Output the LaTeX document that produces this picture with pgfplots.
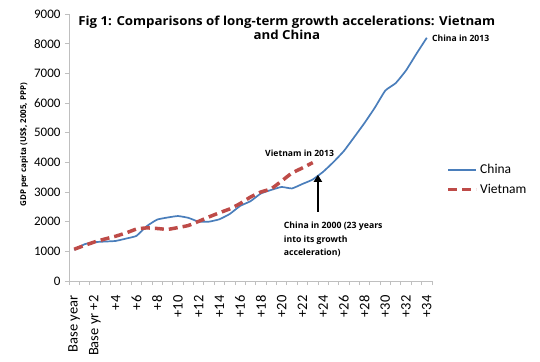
\documentclass[border=0pt]{standalone}
\usepackage{pgfplots}
\pgfplotsset{compat=1.18}
\usepackage{fontspec}
\setmainfont{Carlito}
\newfontfamily\osans{Open Sans}
\newfontfamily\osansw{Open Sans}[FakeStretch=1.07]
\usetikzlibrary{arrows.meta}
\definecolor{chinablue}{HTML}{4A7EBB}
\definecolor{vnred}{HTML}{BE4B48}
\definecolor{axgrey}{HTML}{BFBFBF}
\begin{document}
\begin{tikzpicture}
\path[use as bounding box] (-69pt,-80pt) rectangle (471pt,281pt);
\begin{axis}[
  at={(0,0)}, anchor=south west,
  scale only axis, width=363pt, height=267pt,
  xmin=-0.5, xmax=34.5, ymin=0, ymax=9000,
  axis lines*=left,
  axis line style={axgrey, line width=0.8pt},
  clip=false,
  ytick={0,1000,...,9000},
  xtick={0,2,...,34},
  xticklabels={Base year,Base yr +2,+4,+6,+8,+10,+12,+14,+16,+18,+20,+22,+24,+26,+28,+30,+32,+34},
  minor xtick={-0.5,0.5,...,34.5},
  tick align=outside,
  major tick length=4pt, minor tick length=4pt,
  major x tick style={draw=none},
  minor x tick style={axgrey, line width=0.8pt},
  major y tick style={axgrey, line width=0.8pt},
  /pgf/number format/assume math mode=true,
  /pgf/number format/1000 sep={},
  yticklabel style={font=\fontsize{13}{14}\selectfont, xshift=-1pt},
  xticklabel shift=7pt,
  xticklabel style={font=\fontsize{14.5}{15}\selectfont, rotate=90, anchor=east},
  legend style={at={(rel axis cs:1.04,0.38)}, anchor=west, draw=none, fill=none,
    font=\fontsize{13.5}{14}\selectfont, row sep=5pt, inner sep=0pt},
  legend cell align=left,
  legend image code/.code={\draw[#1] (0pt,0pt) -- (28pt,0pt);},
]
\addlegendimage{chinablue, line width=2pt}
\addlegendentry{China}
\addlegendimage{vnred, line width=3.5pt, dash pattern=on 9pt off 5pt}
\addlegendentry{Vietnam}
\addplot[chinablue, line width=1.7pt, smooth, tension=0.25, forget plot] coordinates {
(0,1050) (1,1240) (2,1310) (3,1330) (4,1350) (5,1430) (6,1520) (7,1850) (8,2070)
(9,2140) (10,2190) (11,2130) (12,2000) (13,2000) (14,2080) (15,2260) (16,2530)
(17,2690) (18,2950) (19,3070) (20,3170) (21,3120) (22,3270) (23,3420) (24,3680)
(25,4010) (26,4380) (27,4850) (28,5330) (29,5850) (30,6420) (31,6670) (32,7100)
(33,7660) (34,8200)};
\addplot[vnred, line width=3.5pt, dash pattern=on 9pt off 5pt, smooth, tension=0.25, forget plot] coordinates {
(0,1070) (1,1200) (2,1320) (3,1420) (4,1510) (5,1620) (6,1750) (7,1790) (8,1770)
(9,1740) (10,1800) (11,1870) (12,2010) (13,2160) (14,2300) (15,2430) (16,2610)
(17,2830) (18,3000) (19,3110) (20,3370) (21,3640) (22,3810) (23,3990)};
\draw[black, line width=2pt, -{Triangle[width=8pt,length=7pt]}] (axis cs:23.5,2330) -- (axis cs:23.5,3580);
\node[anchor=north west, inner sep=0pt, align=left, font=\osans\bfseries\fontsize{8.7}{13.4}\selectfont]
  at (axis cs:20.2,1990) {China in 2000 (23 years\\into its growth\\acceleration)};
\node[anchor=west, inner sep=0pt, font=\osans\bfseries\fontsize{8.6}{9}\selectfont]
  at (axis cs:18.4,4320) {Vietnam in 2013};
\node[anchor=west, inner sep=0pt, font=\osans\bfseries\fontsize{8.6}{9}\selectfont]
  at (axis cs:34.5,8180) {China in 2013};
\node[anchor=north, inner sep=0pt, align=center, font=\osansw\bfseries\fontsize{12.4}{14}\selectfont]
  at (rel axis cs:0.6,0.993) {Fig 1: Comparisons of long-term growth accelerations: Vietnam\\and China};
\path (rel axis cs:0,0.51) ++(-45pt,0pt) node[rotate=90, inner sep=0pt, font=\osans\bfseries\fontsize{8}{9}\selectfont] {GDP per capita (US\$, 2005, PPP)};
\end{axis}
\end{tikzpicture}
\end{document}
